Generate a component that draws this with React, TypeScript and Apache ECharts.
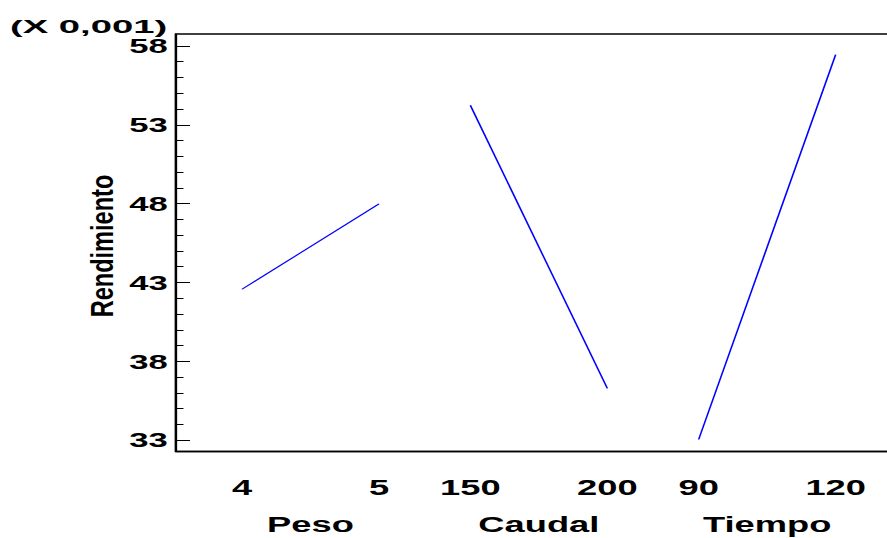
import React, { useEffect, useRef } from "react";
import * as echarts from "echarts";

// ---- data ----
const factorNames = ["Peso", "Caudal", "Tiempo"];
const lowLevels = ["4", "150", "90"];
const highLevels = ["5", "200", "120"];
const lowEffects = [42.57, 54.24, 33.04];
const highEffects = [47.98, 36.28, 57.45];
const yMajorTicks = [33, 38, 43, 48, 53, 58];
const yMinorTicks = [34, 35, 36, 37, 39, 40, 41, 42, 44, 45, 46, 47, 49, 50, 51, 52, 54, 55, 56, 57];
const yMin = 32.28;
const yMax = 58.76;
const scaleNote = "(X 0,001)";
const yTitle = "Rendimiento";

// ---- layout (not data) ----
const S = 1.65; // horizontal stretch of the whole picture
const SPAN = 3; // distance low -> high of one factor, in axis units
const STEP = 5; // distance between factor starts
const PAD = 1.445;
const FONT = "Liberation Sans, Arial, sans-serif";

export default function App() {
  const ref = useRef<HTMLDivElement>(null);

  useEffect(() => {
    if (!ref.current) return;
    const chart = echarts.init(ref.current, null, { renderer: "svg" });

    const pos = (k: number, high: boolean) => k * STEP + (high ? SPAN : 0);
    const levelPositions: number[] = [];
    const levelText: Record<string, string> = {};
    const namePositions: number[] = [];
    const nameText: Record<string, string> = {};
    factorNames.forEach((n, k) => {
      levelPositions.push(pos(k, false), pos(k, true));
      levelText[String(pos(k, false))] = lowLevels[k];
      levelText[String(pos(k, true))] = highLevels[k];
      const mid = k * STEP + SPAN / 2;
      namePositions.push(mid);
      nameText[String(mid)] = n;
    });
    const xMin = -PAD;
    const xMax = (factorNames.length - 1) * STEP + SPAN + PAD;

    const series = factorNames.map((n, k) => ({
      name: n,
      type: "line",
      xAxisIndex: 0,
      yAxisIndex: 0,
      showSymbol: false,
      symbol: "none",
      lineStyle: { color: "#0000ff", width: 1 },
      data: [
        [pos(k, false), lowEffects[k]],
        [pos(k, true), highEffects[k]],
      ],
    }));

    const gridLeft = 176 / S;
    const pxPerUnit = 137 / SPAN;
    const gridWidth = ((xMax - xMin) * pxPerUnit) / S;

    const yBase = {
      type: "value",
      min: yMin,
      max: yMax,
      splitLine: { show: false },
    };

    chart.setOption({
      animation: false,
      backgroundColor: "#ffffff",
      grid: {
        left: gridLeft,
        top: 34,
        width: gridWidth,
        height: 417.5,
        show: true,
        borderColor: "#000",
        borderWidth: 1.4,
        backgroundColor: "transparent",
      },
      xAxis: [
        {
          type: "value",
          min: xMin,
          max: xMax,
          position: "bottom",
          axisLine: { show: true, onZero: false, lineStyle: { color: "#000", width: 1.4 } },
          axisTick: { show: false },
          splitLine: { show: false },
          axisLabel: {
            customValues: levelPositions,
            formatter: (v: number) => levelText[String(v)] ?? "",
            color: "#000",
            fontFamily: FONT,
            fontWeight: "bold",
            fontSize: 22,
            margin: 25,
          },
        },
        {
          type: "value",
          min: xMin,
          max: xMax,
          position: "bottom",
          axisLine: { show: false, onZero: false },
          axisTick: { show: false },
          splitLine: { show: false },
          axisLabel: {
            customValues: namePositions,
            formatter: (v: number) => nameText[String(v)] ?? "",
            color: "#000",
            fontFamily: FONT,
            fontWeight: "bold",
            fontSize: 22,
            margin: 62,
          },
        },
      ],
      yAxis: [
        {
          ...yBase,
          position: "left",
          axisLine: { show: true, onZero: false, lineStyle: { color: "#000", width: 1.2 } },
          axisTick: {
            show: true,
            inside: true,
            length: 14 / S,
            customValues: yMajorTicks,
            lineStyle: { color: "#000", width: 1 },
          },
          axisLabel: {
            customValues: yMajorTicks,
            color: "#000",
            fontFamily: FONT,
            fontWeight: "bold",
            fontSize: 21,
            margin: 5,
          },
        },
        {
          ...yBase,
          position: "left",
          axisLine: { show: false, onZero: false },
          axisTick: {
            show: true,
            inside: true,
            length: 7.5 / S,
            customValues: yMinorTicks,
            lineStyle: { color: "#000", width: 1 },
          },
          axisLabel: { show: false },
        },
        {
          ...yBase,
          position: "right",
          axisLine: { show: true, onZero: false, lineStyle: { color: "#000", width: 1 } },
          axisTick: {
            show: true,
            inside: true,
            length: 14 / S,
            customValues: yMajorTicks,
            lineStyle: { color: "#000", width: 1 },
          },
          axisLabel: { show: false },
        },
      ],
      graphic: [
        {
          type: "text",
          x: 10 / S,
          y: 26,
          scaleX: 1.22,
          style: {
            text: scaleNote,
            fontFamily: FONT,
            fontWeight: "bold",
            fontSize: 19,
            fill: "#000",
            align: "left",
            verticalAlign: "middle",
          },
        },
        {
          type: "text",
          x: 102.5 / S,
          y: 246,
          rotation: Math.PI / 2,
          scaleX: 1.24,
          style: {
            text: yTitle,
            fontFamily: FONT,
            fontWeight: "bold",
            fontSize: 19,
            fill: "#000",
            align: "center",
            verticalAlign: "middle",
          },
        },
      ],
      series,
    });

    return () => {
      chart.dispose();
    };
  }, []);

  return (
    <div
      style={{
        position: "fixed",
        left: 0,
        top: 0,
        width: 887,
        height: 538,
        overflow: "hidden",
        background: "#fff",
      }}
    >
      <div
        ref={ref}
        style={{
          width: 570,
          height: 538,
          transform: `scaleX(${S})`,
          transformOrigin: "0 0",
        }}
      />
    </div>
  );
}
